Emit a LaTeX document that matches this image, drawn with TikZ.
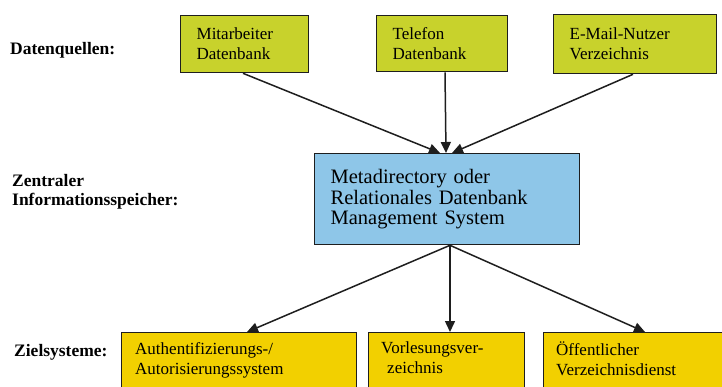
\documentclass[tikz,border=0pt]{standalone}
\usepackage{fontspec}
\setmainfont{Liberation Serif}
\usetikzlibrary{arrows.meta,calc}
\definecolor{srcgreen}{RGB}{200,210,44}
\definecolor{coreblue}{RGB}{142,198,232}
\definecolor{tgtgold}{RGB}{242,208,0}
\definecolor{edgecol}{RGB}{30,30,30}
\begin{document}
\begin{tikzpicture}[x=1pt,y=-1pt,
  boxbase/.style={draw=edgecol, line width=1.3pt, anchor=north west, inner ysep=0pt, align=left,
    font=\fontsize{17}{20}\selectfont},
  srcbox/.style={boxbase, fill=srcgreen, inner xsep=15pt},
  corebox/.style={boxbase, fill=coreblue, inner xsep=15pt, font=\fontsize{20.5}{20.5}\selectfont},
  tgtbox/.style={draw=edgecol, line width=1.3pt, anchor=north west, fill=tgtgold, inner sep=0pt},
  tgttext/.style={anchor=north west, inner sep=0pt, align=left, font=\fontsize{17}{20}\selectfont},
  lbl/.style={anchor=west, inner sep=0pt, align=left, font=\fontsize{17.5}{19}\bfseries\selectfont},
  arr/.style={draw=edgecol, line width=1.5pt, -{Triangle[length=11pt,width=10pt]}}
]
\clip (0,0) rectangle (722,387);
\useasboundingbox (0,0) rectangle (722,387);
\fill[white] (0,0) rectangle (722,387);

% labels
\node[lbl] (l1) at (10,50) {Datenquellen:};
\node[lbl] (l2) at (12,192) {Zentraler\\Informationsspeicher:};
\node[lbl] (l3) at (14,352) {Zielsysteme:};

% sources
\node[srcbox, minimum width=128pt, minimum height=57pt, text width=96pt] (mit) at (180,15) {Mitarbeiter\\Datenbank};
\node[srcbox, minimum width=131pt, minimum height=56pt, text width=99pt] (tel) at (376,15) {Telefon\\Datenbank};
\node[srcbox, minimum width=163pt, minimum height=59pt, text width=131pt, inner xsep=13pt] (mail) at (553,14) {E-Mail-Nutzer\\Verzeichnis};

% core
\node[corebox, minimum width=265pt, minimum height=91pt, text width=233pt] (core) at (314,153) {Metadirectory oder\\Relationales Datenbank\\Management System};

% targets
\node[tgtbox, minimum width=235pt, minimum height=80pt] (auth) at (121,332) {};
\node[tgtbox, minimum width=156pt, minimum height=80pt] (vorl) at (368,332) {};
\node[tgtbox, minimum width=190pt, minimum height=80pt] (oeff) at (543,332) {};
\node[tgttext] (authT) at ($(auth.north west)+(14,10)$) {Authentifizierungs-/\\Autorisierungssystem};
\node[tgttext] (vorlT) at ($(vorl.north west)+(13,10)$) {Vorlesungsver-\\\hspace*{6pt}zeichnis};
\node[tgttext] (oeffT) at ($(oeff.north west)+(13,10)$) {Öffentlicher\\Verzeichnisdienst};

% arrows in
\draw[arr] ($(mit.south west)+(63,0)$) -- ($(core.north west)+(126,0)$);
\draw[arr] ($(tel.south west)+(69,0)$) -- ($(core.north west)+(132,0)$);
\draw[arr] ($(mail.south west)+(80,0)$) -- ($(core.north west)+(138,0)$);

% arrows out
\draw[arr] ($(core.south west)+(136,0)$) -- ($(auth.north west)+(126,0)$);
\draw[arr] ($(core.south west)+(136,0)$) -- ($(vorl.north west)+(82,0)$);
\draw[arr] ($(core.south west)+(136,0)$) -- ($(oeff.north west)+(102,0)$);
\end{tikzpicture}
\end{document}
